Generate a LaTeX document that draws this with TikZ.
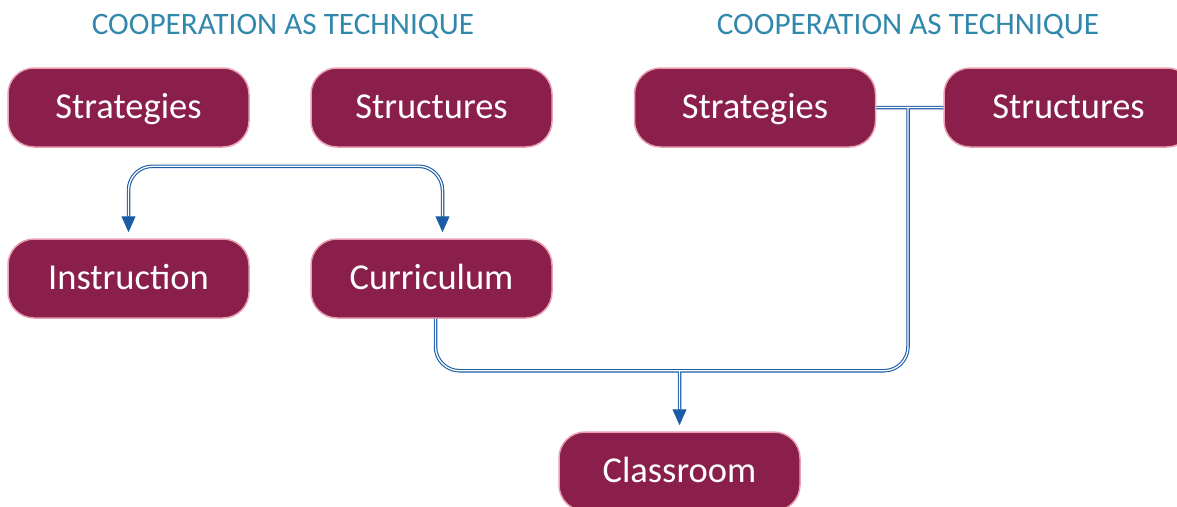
\documentclass[tikz,border=0pt]{standalone}
\usepackage{fontspec}
\setmainfont{Carlito}
\usetikzlibrary{arrows.meta,calc}
\definecolor{boxfill}{RGB}{138,31,75}
\definecolor{boxedge}{RGB}{232,160,178}
\definecolor{conn}{RGB}{27,92,165}
\definecolor{titlec}{RGB}{49,136,172}
\begin{document}
\begin{tikzpicture}[x=1pt,y=-1pt,
  box/.style={draw=boxedge,line width=1.5pt,fill=boxfill,rounded corners=26pt,
    minimum width=241pt,minimum height=79pt,text=white,
    font=\fontsize{36.5}{40}\selectfont,inner sep=0pt,text height=27pt,text depth=6pt},
  ttl/.style={text=titlec,font=\fontsize{31.2}{34}\selectfont,inner sep=0pt,anchor=base},
  dbl/.style={draw=conn,line width=1.1pt,double=white,double distance=1.3pt,rounded corners=24pt},
  arr/.style={draw=conn,line width=1pt,-{Triangle[width=14pt,length=16pt]}}]
\useasboundingbox (0,0) rectangle (1177,506);
\node[ttl] (t1) at (283,34) {COOPERATION AS TECHNIQUE};
\node[ttl] (t2) at (908,34) {COOPERATION AS TECHNIQUE};
\node[box] (str1) at (128.5,107.5) {Strategies};
\node[box] (stc1) at (431.5,107.5) {Structures};
\node[box] (str2) at (755,107.5) {Strategies};
\node[box,minimum width=249pt] (stc2) at (1068.5,107.5) {Structures};
\node[box] (ins) at (128.5,278.5) {Instruction};
\node[box] (cur) at (431.5,278.5) {Curriculum};
\node[box] (cls) at (679.5,471.5) {Classroom};
% connector to Instruction and Curriculum
\coordinate (a1) at ($(ins.north)+(0,-22)$);
\coordinate (a2) at ($(cur.north)+(11,-22)$);
\draw[dbl] (a1) -- ($(ins.north)+(0,-72)$) -- ($(cur.north)+(11,-72)$) -- (a2);
\draw[arr] (a1) -- ($(ins.north)+(0,-6)$);
\draw[arr] (a2) -- ($(cur.north)+(11,-6)$);
% connector to Classroom
\coordinate (j) at (908,107.5);
\coordinate (bot) at ($(cur.south)+(4,52)$);
\coordinate (mid) at (bot -| cls.north);
\coordinate (a3) at ($(cls.north)+(0,-22)$);
\draw[dbl] (str2.east) -- (stc2.west)
  (j) |- (bot) -- ($(cur.south)+(4,0)$)
  (mid) -- (a3);
\draw[arr] (a3) -- ($(cls.north)+(0,-6)$);
\end{tikzpicture}
\end{document}
